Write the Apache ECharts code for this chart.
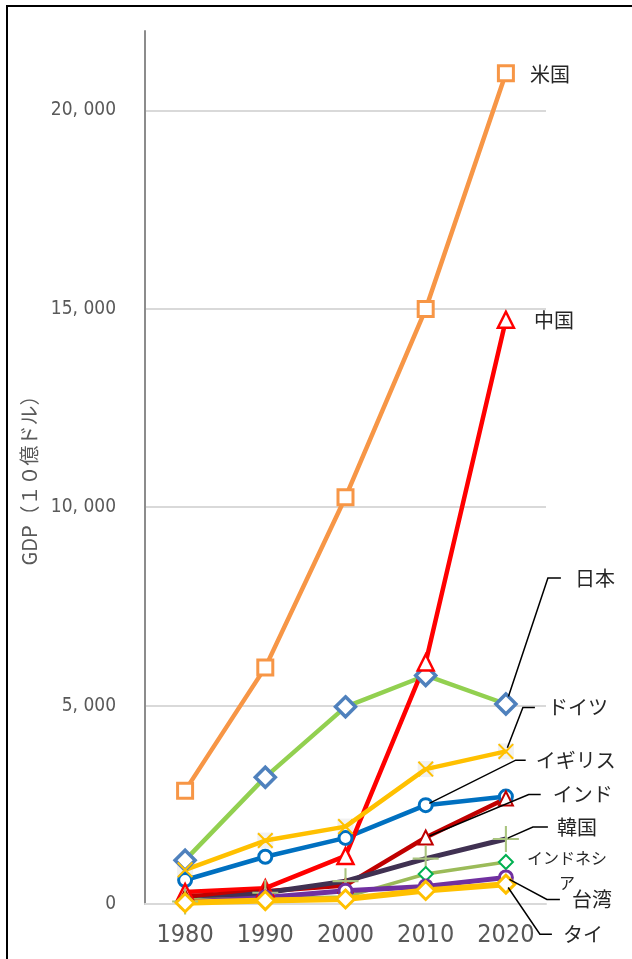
<!DOCTYPE html>
<html>
<head>
<meta charset="utf-8">
<script src="https://cdn.jsdelivr.net/npm/echarts@6/dist/echarts.min.js"></script>
<style>
  html, body { margin: 0; padding: 0; background: #fff; }
  body { position: relative; width: 632px; height: 959px; overflow: hidden; }
  #frame { position: absolute; left: 6px; top: 5px; width: 700px; height: 1000px;
           border-left: 2px solid #000; border-top: 2px solid #000; }
  #chart { position: absolute; left: 0; top: 0; width: 632px; height: 959px; }
</style>
</head>
<body>
<div id="frame"></div>
<div id="chart"></div>
<script>
// GDP by country, billions of US dollars
const years     = ['1980', '1990', '2000', '2010', '2020'];
const usa       = [2857, 5963, 10252, 14992, 20937];
const china     = [303, 398, 1211, 6087, 14723];
const japan     = [1105, 3196, 4968, 5759, 5040];
const germany   = [860, 1599, 1950, 3400, 3846];
const uk        = [604, 1190, 1665, 2491, 2708];
const india     = [186, 321, 468, 1676, 2660];
const korea     = [65, 283, 576, 1144, 1638];
const indonesia = [99, 138, 179, 755, 1059];
const taiwan    = [42, 166, 331, 444, 669];
const thailand  = [32, 88, 126, 341, 500];

const yTicks      = [0, 5000, 10000, 15000, 20000];
const yTickLabels = ['0', '5, 000', '10, 000', '15, 000', '20, 000'];

const latinFont = "'DejaVu Sans Condensed', 'Liberation Sans Narrow', 'DejaVu Sans', sans-serif";
const cjkFont = "'Noto Sans CJK JP', 'Noto Sans', sans-serif";

// custom marker shapes
const crossPath = 'path://M0,0.9L0.9,0L5,4.1L9.1,0L10,0.9L5.9,5L10,9.1L9.1,10L5,5.9L0.9,10L0,9.1L4.1,5Z';
const plusPath  = 'path://M4.6,0H5.4V4.6H10V5.4H5.4V10H4.6V5.4H0V4.6H4.6Z';

function lineSeries(name, data, o) {
  return {
    type: 'line', name: name, data: data,
    symbol: o.symbol, symbolSize: o.size,
    lineStyle: { color: o.line, width: o.width },
    itemStyle: { color: o.fill, borderColor: o.border, borderWidth: o.bw },
    emphasis: { disabled: true },
    animation: false
  };
}

// country labels, some with leader lines (offsets in px from the data point)
const notes = [
  { text: '米国', data: usa, i: 4, tx: 24, ty: 1 },
  { text: '中国', data: china, i: 4, tx: 28, ty: 1 },
  { text: '日本', data: japan, i: 4, ex: 42, ey: -126, hx: 55, tx: 69, gap: 8 },
  { text: 'ドイツ', data: germany, i: 4, ex: 17, ey: -44, hx: 29, tx: 42, gap: 4 },
  { text: 'イギリス', data: uk, i: 3, ex: 90, ey: -45, hx: 100, tx: 110, gap: 4 },
  { text: 'インド', data: india, i: 3, ex: 103, ey: -43, hx: 115, tx: 127, gap: 4 },
  { text: '韓国', data: korea, i: 4, ex: 27, ey: -12, hx: 42, tx: 51, gap: 2 },
  { text: 'インドネシア', data: indonesia, i: 4, tx: 61, ty: 8, align: 'center', size: 16, w: 86, lh: 25 },
  { text: '台湾', data: taiwan, i: 4, ex: 41, ey: 22, hx: 54, tx: 66, gap: 4 },
  { text: 'タイ', data: thailand, i: 4, ex: 34, ey: 50, hx: 46, tx: 57, gap: 4 }
];

const chart = echarts.init(document.getElementById('chart'), null, { renderer: 'canvas' });

const option = {
  animation: false,
  backgroundColor: 'transparent',
  grid: { left: 145, right: 86, top: 31, bottom: 55 },
  xAxis: {
    type: 'category', data: years, boundaryGap: true,
    axisLine: { lineStyle: { color: '#d9d9d9', width: 2 } },
    axisTick: { show: false },
    axisLabel: { color: '#595959', fontSize: 25, fontWeight: 'condensed', fontFamily: latinFont, margin: 19, interval: 0 }
  },
  yAxis: {
    type: 'value', min: 0, max: 22000, interval: 5000,
    name: 'GDP（１０億ドル）', nameLocation: 'middle', nameGap: 105, nameRotate: 90,
    nameTextStyle: { color: '#595959', fontSize: 20, fontFamily: cjkFont, padding: [0, 16, 0, 0] },
    axisLine: { show: true, lineStyle: { color: '#8c8c8c', width: 2 } },
    axisTick: { show: false },
    axisLabel: {
      color: '#595959', fontSize: 19, fontWeight: 'condensed', fontFamily: latinFont, margin: 29, showMaxLabel: false,
      formatter: function (v) { const k = yTicks.indexOf(v); return k >= 0 ? yTickLabels[k] : ''; }
    },
    splitLine: { lineStyle: { color: ['#d9d9d9', '#d9d9d9', '#d9d9d9', '#d9d9d9', '#d9d9d9', 'rgba(0,0,0,0)'], width: 2 } }
  },
  series: [
    lineSeries('米国', usa, { symbol: 'rect', size: 15, line: '#f79646', width: 4.5, fill: '#fff', border: '#f79646', bw: 3 }),
    lineSeries('日本', japan, { symbol: 'diamond', size: 20, line: '#92d050', width: 4.5, fill: '#fff', border: '#4f81bd', bw: 3.5 }),
    lineSeries('イギリス', uk, { symbol: 'circle', size: 13, line: '#0070c0', width: 4.5, fill: '#fff', border: '#0070c0', bw: 3 }),
    lineSeries('中国', china, { symbol: 'triangle', size: 16, line: '#ff0000', width: 4.5, fill: '#fff', border: '#ff0000', bw: 2.5 }),
    {
      type: 'scatter', data: germany, symbol: 'rect', symbolSize: 16,
      itemStyle: { color: '#eeeeee' }, emphasis: { disabled: true }, animation: false, silent: true
    },
    lineSeries('ドイツ', germany, { symbol: crossPath, size: 16, line: '#ffc000', width: 4.5, fill: '#ffc000', border: '#ffc000', bw: 0 }),
    lineSeries('インド', india, { symbol: 'triangle', size: 14, line: '#c00000', width: 4.5, fill: '#fff', border: '#c00000', bw: 2 }),
    lineSeries('韓国', korea, { symbol: plusPath, size: 26, line: '#403152', width: 5, fill: '#a9c47f', border: '#a9c47f', bw: 0 }),
    lineSeries('インドネシア', indonesia, { symbol: 'diamond', size: 14, line: '#9bbb59', width: 3.5, fill: '#fff', border: '#00b050', bw: 2 }),
    lineSeries('台湾', taiwan, { symbol: 'circle', size: 13, line: '#7030a0', width: 5, fill: '#fff', border: '#7030a0', bw: 3 }),
    lineSeries('タイ', thailand, { symbol: 'diamond', size: 18, line: '#ffc000', width: 6, fill: '#fff', border: '#ffc000', bw: 3 }),
    {
      type: 'custom', silent: true, animation: false, clip: false, z: 10,
      data: notes.map(function (n) { return [n.i, n.data[n.i]]; }),
      renderItem: function (params, api) {
        const n = notes[params.dataIndex];
        const p = api.coord([api.value(0), api.value(1)]);
        const children = [];
        let ty = n.ty;
        if (n.ex !== undefined) {
          const len = Math.hypot(n.ex, n.ey);
          const sx = p[0] + n.ex / len * n.gap, sy = p[1] + n.ey / len * n.gap;
          children.push({
            type: 'polyline',
            shape: { points: [[sx, sy], [p[0] + n.ex, p[1] + n.ey], [p[0] + n.hx, p[1] + n.ey]] },
            style: { stroke: '#000', lineWidth: 1.5, fill: null }
          });
          ty = n.ey;
        }
        const st = {
          text: n.text, x: p[0] + n.tx, y: p[1] + ty,
          fill: '#262626', fontSize: n.size || 20, fontFamily: cjkFont,
          align: n.align || 'left', verticalAlign: 'middle'
        };
        if (n.w) { st.width = n.w; st.overflow = 'break'; st.lineHeight = n.lh; }
        children.push({ type: 'text', style: st });
        return { type: 'group', children: children };
      }
    }
  ]
};

chart.setOption(option);
</script>
</body>
</html>
